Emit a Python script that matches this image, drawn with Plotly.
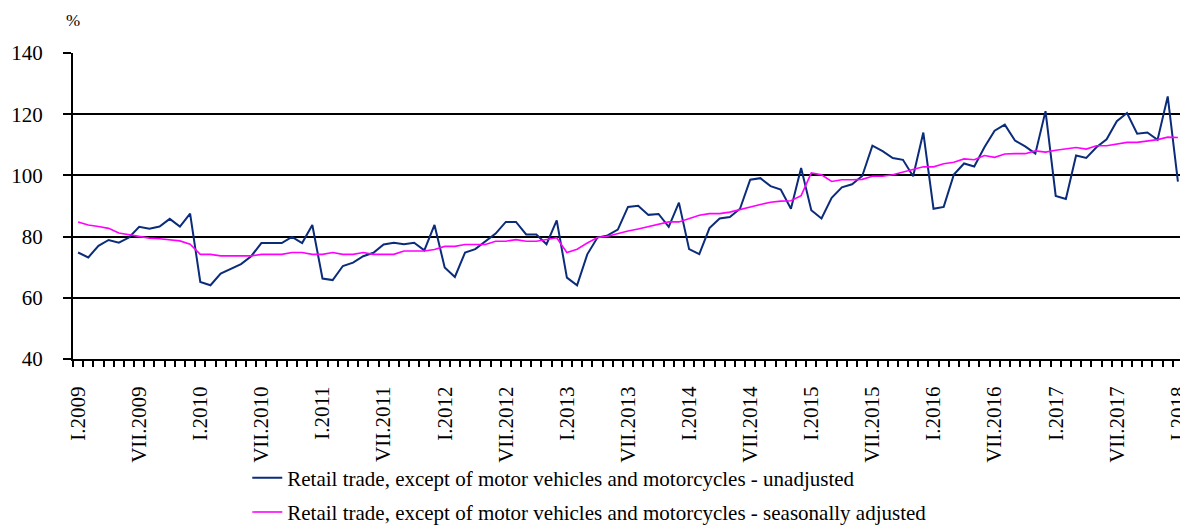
import plotly.graph_objects as go

unadjusted = [
    74.8, 73.2, 77.0, 78.9, 78.0, 79.7, 83.2, 82.6, 83.3, 85.8, 83.3, 87.5,
    65.2, 64.1, 67.9, 69.5, 71.0, 73.6, 77.9, 77.9, 77.9, 79.9, 77.9, 83.8,
    66.3, 65.8, 70.4, 71.5, 73.6, 74.7, 77.4, 78.0, 77.5, 78.0, 75.5, 83.8,
    69.9, 66.8, 74.8, 75.9, 78.3, 81.0, 84.8, 84.8, 80.7, 80.7, 77.5, 85.3,
    66.6, 64.1, 74.2, 79.7, 80.4, 82.3, 89.7, 90.1, 87.1, 87.4, 83.2, 91.1,
    75.9, 74.3, 82.8, 85.9, 86.4, 89.1, 98.6, 99.1, 96.5, 95.4, 89.1, 102.4,
    88.6, 85.9, 92.7, 96.1, 97.1, 99.8, 109.7, 107.9, 105.7, 105.1, 99.7, 114.0,
    89.1, 89.7, 100.3, 103.9, 102.9, 109.2, 114.6, 116.6, 111.4, 109.5, 107.1, 121.0,
    93.3, 92.3, 106.5, 105.7, 109.2, 111.8, 117.7, 120.4, 113.6, 114.0, 111.6, 125.8,
    98.0,
]

seasonally_adjusted = [
    84.8, 83.8, 83.3, 82.7, 81.2, 80.7, 80.0, 79.5, 79.3, 79.0, 78.6, 77.5,
    74.2, 74.2, 73.7, 73.7, 73.7, 73.7, 74.2, 74.2, 74.2, 74.8, 74.8, 74.2,
    74.2, 74.8, 74.2, 74.2, 74.8, 74.2, 74.2, 74.2, 75.3, 75.3, 75.3, 75.8,
    76.8, 76.8, 77.4, 77.4, 77.4, 78.5, 78.5, 79.0, 78.5, 78.5, 79.0, 79.6,
    74.8, 75.9, 77.9, 79.7, 80.1, 81.0, 81.8, 82.5, 83.2, 84.0, 84.8, 84.8,
    85.9, 87.0, 87.5, 87.5, 88.0, 88.9, 89.7, 90.5, 91.2, 91.6, 91.7, 93.4,
    100.8, 100.2, 98.0, 98.6, 98.6, 98.7, 99.7, 99.7, 100.2, 101.1, 101.8, 102.8,
    102.8, 103.8, 104.3, 105.4, 105.1, 106.5, 105.9, 107.0, 107.1, 107.1, 108.0, 107.6,
    108.2, 108.7, 109.1, 108.6, 109.7, 109.7, 110.2, 110.8, 110.8, 111.3, 111.7, 112.5,
    112.4,
]

roman = ["I", "II", "III", "IV", "V", "VI", "VII", "VIII", "IX", "X", "XI", "XII"]
months = [f"{roman[i % 12]}.{2009 + i // 12}" for i in range(len(unadjusted))]
tick_positions = [i for i, m in enumerate(months) if m.startswith("I.") or m.startswith("VII.")]
tick_labels = [months[i] for i in tick_positions]

series_names = [
    "Retail trade, except of motor vehicles and motorcycles - unadjusted",
    "Retail trade, except of motor vehicles and motorcycles - seasonally adjusted",
]

FONT = "Liberation Serif"
x_idx = list(range(len(months)))

# the page body has an 8px default margin, so the figure is 8px smaller
BODY = 8
W, H = 1188 - BODY, 526 - BODY
ML, MR, MT, MB = 73 - BODY, 5, 53 - BODY, 167
plot_w = W - ML - MR
plot_h = H - MT - MB

fig = go.Figure()
fig.add_trace(go.Scatter(
    x=x_idx, y=unadjusted, mode="lines", name=series_names[0],
    line=dict(color="#0B2C7A", width=2), legendgroup="a",
    text=months, hoverinfo="text+y",
))
fig.add_trace(go.Scatter(
    x=x_idx, y=seasonally_adjusted, mode="lines", name=series_names[1],
    line=dict(color="#FF00FF", width=1.6), legendgroup="b",
    text=months, hoverinfo="text+y",
))

fig.update_layout(
    width=W, height=H,
    margin=dict(l=ML, r=MR, t=MT, b=MB, autoexpand=False),
    paper_bgcolor="white", plot_bgcolor="white",
    font=dict(family=FONT, size=21, color="black"),
    showlegend=True,
    legend=dict(
        x=0.157, y=-0.322, xanchor="left", yanchor="top",
        orientation="v", traceorder="grouped", tracegroupgap=4,
        font=dict(family=FONT, size=21, color="black"),
        bgcolor="rgba(0,0,0,0)",
    ),
    xaxis=dict(
        range=[-0.5, len(months) - 0.5], automargin=False,
        tickmode="array", tickvals=tick_positions, ticktext=tick_labels,
        tickangle=-90, ticks="", showgrid=False, zeroline=False,
        showline=True, linecolor="black", linewidth=2,
        tickfont=dict(family=FONT, size=21, color="black"),
        ticklabelstandoff=17, ticklabeloverflow="allow",
        minor=dict(tick0=-0.5, dtick=1, ticks="outside", ticklen=6,
                   tickcolor="black", tickwidth=1.5, showgrid=False),
    ),
    yaxis=dict(
        range=[40, 140], automargin=False,
        tickmode="array", tickvals=[40, 60, 80, 100, 120, 140],
        showgrid=True, gridcolor="black", gridwidth=1.5, zeroline=False,
        showline=True, linecolor="black", linewidth=2,
        ticks="outside", ticklen=8, tickcolor="black", tickwidth=1.5,
        tickfont=dict(family=FONT, size=21, color="black"),
        ticklabelstandoff=16,
    ),
    annotations=[dict(
        text="%", x=0, y=1 + (53 - 21) / plot_h, xref="paper", yref="paper",
        xanchor="center", yanchor="middle", showarrow=False,
        font=dict(family=FONT, size=17, color="black"),
    )],
)

fig.write_html("out.html")
